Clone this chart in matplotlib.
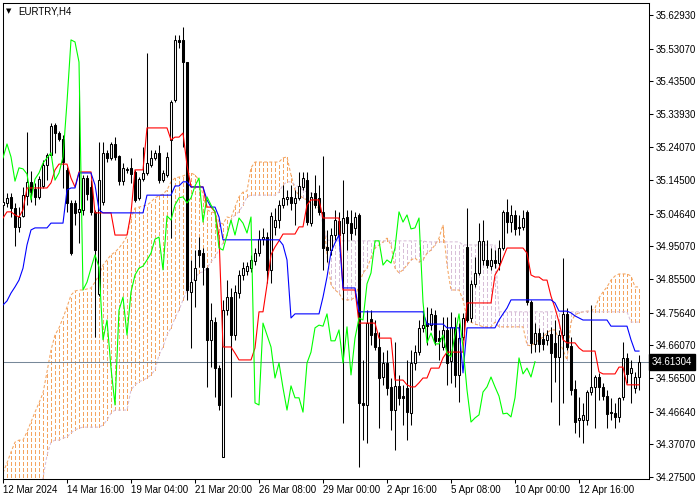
import numpy as np
import matplotlib.pyplot as plt
from matplotlib.colors import to_rgba_array
from matplotlib.transforms import blended_transform_factory

plt.rcParams['font.family'] = ['Liberation Sans', 'DejaVu Sans']
plt.rcParams['lines.scale_dashes'] = False

# EURTRY H4 candles
opens = [
    35.072, 35.078, 35.096, 35.063, 35.008, 35.040, 35.099, 35.140, 35.119, 35.096,
    35.128, 35.189, 35.219, 35.307, 35.283, 35.266, 35.175, 35.078, 35.078, 35.052,
    35.058, 35.151, 35.125, 35.052, 34.811, 35.081, 35.225, 35.210, 35.251, 35.216,
    35.142, 35.175, 35.181, 35.169, 35.093, 35.148, 35.166, 35.189, 35.210, 35.225,
    35.145, 35.160, 35.263, 35.380, 35.556, 35.556, 35.491, 34.817, 34.852, 34.940,
    34.931, 34.887, 34.677, 34.729, 34.594, 34.334, 34.764, 34.802, 34.691, 34.814,
    34.867, 34.879, 34.887, 34.908, 34.931, 34.972, 34.978, 34.882, 35.008, 35.028,
    35.072, 35.090, 35.096, 35.078, 35.093, 35.125, 35.145, 35.019, 35.107, 35.093,
    35.052, 34.949, 34.940, 34.984, 35.025, 34.990, 35.037, 35.019, 35.005, 35.043,
    34.492, 34.486, 34.738, 34.697, 34.656, 34.568, 34.609, 34.539, 34.471, 34.542,
    34.512, 34.536, 34.462, 34.609, 34.641, 34.712, 34.726, 34.720, 34.750, 34.682,
    34.656, 34.706, 34.615, 34.715, 34.574, 34.685, 34.949, 34.741, 34.841, 34.873,
    34.911, 34.911, 34.893, 34.911, 34.902, 34.946, 35.052, 35.022, 35.043, 35.008,
    35.008, 35.052, 34.788, 34.665, 34.697, 34.679, 34.677, 34.694, 34.668, 34.627,
    34.691, 34.753, 34.659, 34.533, 34.442, 34.442, 34.442, 34.524, 34.539, 34.568,
    34.539, 34.512, 34.465, 34.462, 34.451, 34.509, 34.624, 34.580, 34.536, 34.568,
]
highs = [
    35.107, 35.107, 35.107, 35.078, 35.066, 35.125, 35.286, 35.172, 35.137, 35.157,
    35.204, 35.225, 35.312, 35.312, 35.289, 35.277, 35.184, 35.087, 35.087, 35.409,
    35.160, 35.160, 35.145, 35.058, 35.257, 35.257, 35.233, 35.257, 35.271, 35.219,
    35.195, 35.184, 35.210, 35.175, 35.154, 35.242, 35.518, 35.233, 35.233, 35.248,
    35.175, 35.228, 35.380, 35.570, 35.570, 35.594, 35.491, 34.911, 34.940, 34.978,
    34.946, 34.890, 34.785, 34.744, 34.603, 34.794, 34.852, 34.829, 34.838, 34.882,
    34.905, 34.905, 34.926, 34.946, 34.999, 35.005, 34.993, 35.052, 35.063, 35.087,
    35.131, 35.116, 35.131, 35.116, 35.169, 35.169, 35.169, 35.110, 35.160, 35.131,
    35.216, 34.999, 35.005, 35.058, 35.052, 35.145, 35.058, 35.058, 35.052, 35.049,
    34.618, 34.764, 34.764, 34.735, 34.700, 34.641, 34.647, 34.565, 34.671, 34.574,
    34.545, 34.618, 34.647, 34.662, 34.735, 34.764, 34.773, 34.770, 34.764, 34.706,
    34.744, 34.744, 34.759, 34.744, 34.726, 34.756, 35.063, 34.852, 34.920, 35.019,
    35.028, 34.970, 34.946, 34.940, 34.970, 35.058, 35.090, 35.072, 35.058, 35.043,
    35.058, 35.058, 34.794, 34.726, 34.712, 34.700, 34.706, 34.715, 34.735, 34.706,
    34.917, 34.770, 34.685, 34.559, 34.509, 34.492, 34.530, 34.779, 34.574, 34.580,
    34.551, 34.530, 34.507, 34.492, 34.509, 34.671, 34.638, 34.618, 34.583, 34.632,
]
lows = [
    35.016, 35.066, 35.037, 34.952, 34.993, 35.037, 35.072, 35.081, 35.072, 35.090,
    35.122, 35.145, 35.213, 35.225, 35.260, 35.122, 35.052, 34.926, 35.014, 34.961,
    35.043, 35.087, 35.043, 34.685, 34.805, 35.072, 35.198, 35.204, 35.204, 35.131,
    35.131, 35.166, 35.137, 35.081, 35.087, 35.142, 35.160, 35.184, 35.204, 35.137,
    35.140, 35.154, 34.975, 35.374, 35.532, 35.242, 34.794, 34.653, 34.773, 34.890,
    34.838, 34.539, 34.597, 34.509, 34.471, 34.334, 34.750, 34.509, 34.677, 34.800,
    34.852, 34.867, 34.876, 34.896, 34.923, 34.955, 34.844, 34.844, 34.984, 35.005,
    35.063, 35.072, 35.058, 35.014, 35.087, 35.116, 35.014, 35.011, 35.063, 35.043,
    34.882, 34.905, 34.926, 34.970, 34.970, 34.433, 34.940, 34.970, 34.984, 34.304,
    34.383, 34.375, 34.662, 34.647, 34.418, 34.545, 34.515, 34.413, 34.354, 34.486,
    34.427, 34.383, 34.427, 34.589, 34.632, 34.700, 34.662, 34.706, 34.662, 34.618,
    34.647, 34.545, 34.551, 34.539, 34.495, 34.677, 34.729, 34.729, 34.832, 34.867,
    34.896, 34.887, 34.882, 34.887, 34.882, 34.940, 34.990, 34.993, 34.984, 34.984,
    34.999, 34.779, 34.638, 34.641, 34.641, 34.647, 34.662, 34.495, 34.554, 34.427,
    34.492, 34.647, 34.515, 34.404, 34.392, 34.375, 34.427, 34.515, 34.418, 34.501,
    34.501, 34.418, 34.442, 34.418, 34.436, 34.501, 34.551, 34.492, 34.521, 34.530,
]
closes = [
    35.081, 35.093, 35.063, 35.008, 35.037, 35.101, 35.140, 35.110, 35.096, 35.148,
    35.189, 35.219, 35.304, 35.283, 35.266, 35.198, 35.078, 34.931, 35.049, 35.060,
    35.151, 35.104, 35.052, 34.940, 35.145, 35.225, 35.210, 35.251, 35.213, 35.142,
    35.181, 35.178, 35.163, 35.087, 35.148, 35.166, 35.195, 35.210, 35.225, 35.145,
    35.166, 35.213, 35.374, 35.556, 35.550, 35.491, 34.823, 34.846, 34.887, 34.926,
    34.890, 34.677, 34.735, 34.594, 34.486, 34.764, 34.802, 34.691, 34.817, 34.867,
    34.887, 34.893, 34.911, 34.931, 34.972, 34.978, 34.882, 35.040, 35.028, 35.072,
    35.093, 35.096, 35.078, 35.093, 35.128, 35.151, 35.022, 35.096, 35.072, 35.052,
    34.946, 34.940, 34.984, 35.028, 34.984, 35.034, 35.019, 34.990, 35.037, 34.492,
    34.486, 34.726, 34.691, 34.656, 34.565, 34.609, 34.536, 34.471, 34.542, 34.507,
    34.507, 34.465, 34.609, 34.641, 34.712, 34.720, 34.717, 34.753, 34.674, 34.674,
    34.706, 34.609, 34.715, 34.574, 34.682, 34.741, 34.735, 34.841, 34.873, 34.967,
    34.967, 34.896, 34.911, 34.902, 34.946, 35.052, 35.022, 35.043, 35.002, 35.005,
    35.034, 34.788, 34.668, 34.697, 34.665, 34.665, 34.691, 34.638, 34.627, 34.691,
    34.753, 34.656, 34.530, 34.436, 34.448, 34.457, 34.524, 34.539, 34.568, 34.539,
    34.512, 34.460, 34.462, 34.451, 34.507, 34.624, 34.577, 34.594, 34.568, 34.61304,
]

# Ichimoku lines, (value, number of bars) runs
tenkan_runs = [
    (35.034, 1), (35.052, 2), (35.043, 1), (35.037, 1), (35.058, 1), (35.122, 6),
    (35.137, 1), (35.175, 1), (35.192, 3), (35.151, 1), (35.125, 1), (35.169, 4),
    (35.049, 5), (34.984, 4), (35.049, 1), (35.175, 3), (35.298, 6), (35.263, 1),
    (35.271, 2), (35.283, 1), (35.189, 1), (35.125, 4), (35.066, 2), (35.052, 1),
    (34.981, 1), (34.656, 3), (34.638, 1), (34.618, 4), (34.653, 1), (34.759, 2),
    (34.838, 1), (34.926, 1), (34.949, 1), (34.967, 1), (34.987, 4), (35.008, 2),
    (35.072, 1), (35.087, 3), (35.034, 5), (34.823, 4), (34.726, 5), (34.682, 4),
    (34.559, 3), (34.545, 1), (34.539, 2), (34.551, 1), (34.565, 2), (34.594, 3),
    (34.624, 1), (34.641, 5), (34.785, 7), (34.867, 1), (34.887, 1), (34.917, 1),
    (34.946, 5), (34.931, 1), (34.867, 1), (34.861, 2), (34.852, 2), (34.805, 1),
    (34.770, 1), (34.729, 1), (34.677, 1), (34.668, 3), (34.653, 1), (34.644, 4),
    (34.583, 1), (34.577, 4), (34.597, 2), (34.545, 4),
]
kijun_runs = [
    (34.779, 1), (34.791, 1), (34.814, 1), (34.832, 1), (34.852, 1), (34.887, 1),
    (34.955, 1), (34.999, 1), (35.005, 4), (35.019, 4), (35.116, 1), (35.122, 2),
    (35.166, 4), (35.131, 1), (35.058, 1), (35.049, 11), (35.101, 7), (35.128, 2),
    (35.140, 2), (35.125, 4), (35.087, 1), (35.066, 2), (35.037, 1), (34.970, 15),
    (34.955, 1), (34.911, 1), (34.741, 1), (34.753, 7), (34.802, 1), (34.861, 1),
    (34.934, 1), (34.961, 1), (34.984, 1), (34.829, 4), (34.759, 17), (34.723, 5),
    (34.712, 4), (34.580, 1), (34.712, 8), (34.735, 1), (34.753, 1), (34.770, 1),
    (34.794, 11), (34.785, 1), (34.761, 3), (34.756, 1), (34.747, 1), (34.741, 1),
    (34.735, 7), (34.717, 5), (34.677, 1), (34.644, 2),
]
span_a = [
    34.287, 34.316, 34.348, 34.377, 34.383, 34.383, 34.407, 34.436, 34.465, 34.492,
    34.521, 34.583, 34.647, 34.691, 34.712, 34.741, 34.773, 34.808, 34.820, 34.823,
    34.823, 34.826, 34.829, 34.846, 34.867, 34.896, 34.911, 34.926, 34.934, 34.946,
    34.961, 34.981, 35.034, 35.063, 35.066, 35.069, 35.072, 35.081, 35.093, 35.099,
    35.104, 35.116, 35.140, 35.151, 35.154, 35.157, 35.163, 35.166, 35.160, 35.145,
    35.101, 35.058, 35.052, 35.049, 35.022, 35.016, 35.037, 35.034, 35.066, 35.096,
    35.110, 35.113, 35.181, 35.198, 35.198, 35.198, 35.198, 35.198, 35.198, 35.198,
    35.210, 35.213, 35.160, 35.116, 35.101, 35.093, 35.087, 35.081, 35.072, 35.063,
    35.043, 34.926, 34.838, 34.823, 34.814, 34.794, 34.794, 34.794, 34.802, 34.838,
    34.873, 34.887, 34.917, 34.946, 34.955, 34.964, 34.975, 34.955, 34.887, 34.873,
    34.882, 34.896, 34.911, 34.917, 34.905, 34.911, 34.931, 34.940, 34.955, 34.975,
    35.014, 34.896, 34.823, 34.823, 34.823, 34.794, 34.741, 34.729, 34.723, 34.720,
    34.715, 34.715, 34.715, 34.729, 34.715, 34.715, 34.715, 34.715, 34.715, 34.715,
    34.715, 34.662, 34.659, 34.668, 34.677, 34.685, 34.697, 34.706, 34.706, 34.677,
    34.647, 34.618, 34.729, 34.750, 34.756, 34.759, 34.761, 34.761, 34.770, 34.800,
    34.817, 34.832, 34.852, 34.864, 34.870, 34.870, 34.870, 34.864, 34.832, 34.832,
]
span_b_runs = [
    (34.222, 10), (34.272, 1), (34.339, 1), (34.377, 1), (34.383, 2), (34.389, 1),
    (34.392, 1), (34.404, 1), (34.413, 1), (34.418, 1), (34.421, 5), (34.427, 1),
    (34.442, 1), (34.462, 1), (34.471, 4), (34.530, 1), (34.545, 1), (34.554, 1),
    (34.559, 1), (34.565, 1), (34.574, 1), (34.589, 1), (34.632, 1), (34.656, 1),
    (34.691, 1), (34.712, 1), (34.741, 1), (34.764, 1), (34.794, 1), (34.823, 1),
    (34.844, 1), (34.858, 1), (34.873, 1), (34.876, 1), (34.887, 1), (34.905, 1),
    (34.920, 1), (34.940, 1), (34.961, 1), (34.984, 1), (35.028, 1), (35.043, 1),
    (35.052, 1), (35.072, 1), (35.096, 1), (35.101, 7), (35.110, 1), (35.131, 1),
    (35.140, 2), (35.131, 1), (35.125, 1), (35.116, 1), (35.110, 1), (35.107, 1),
    (35.101, 1), (35.072, 1), (35.014, 1), (34.970, 1), (34.967, 24), (34.964, 9),
    (34.955, 9), (34.759, 33), (34.729, 3),
]

price_ticks = [35.62930, 35.53070, 35.43500, 35.33930, 35.24070, 35.14500, 35.04640,
               34.95070, 34.85500, 34.75640, 34.66070, 34.56500, 34.46640, 34.37070, 34.27500]
time_labels = ["12 Mar 2024", "14 Mar 16:00", "19 Mar 04:00", "21 Mar 20:00", "26 Mar 08:00",
               "29 Mar 00:00", "2 Apr 16:00", "5 Apr 08:00", "10 Apr 00:00", "12 Apr 16:00"]
time_label_bars = [0, 16, 32, 48, 64, 80, 96, 112, 128, 144]


def expand(runs):
    return np.concatenate([np.full(c, v) for v, c in runs])


opens = np.array(opens)
highs = np.array(highs)
lows = np.array(lows)
closes = np.array(closes)
n = len(closes)
x = np.arange(n)
tenkan = expand(tenkan_runs)[:n]
kijun = expand(kijun_runs)[:n]
span_a = np.array(span_a)[:n]
span_b = expand(span_b_runs)[:n]

fig = plt.figure(figsize=(7, 5), dpi=100)
ax = fig.add_axes([2.5 / 700, 21.5 / 500, 646 / 700, 475.8 / 500])

# облако: вертикальные пунктиры между span A и span B
sandy = '#F4A460'
thistle = '#D8BFD8'
cloud_cols = to_rgba_array([sandy if a >= b else thistle for a, b in zip(span_a, span_b)])
dash = (0, (2.2, 1.5))
ax.vlines(x, np.minimum(span_a, span_b), np.maximum(span_a, span_b),
          colors=cloud_cols, linewidth=0.75, linestyles=[dash], antialiased=False, zorder=1)
ax.plot(x, span_a, color=sandy, lw=0.75, ls=dash, zorder=1)
ax.plot(x, span_b, color=thistle, lw=0.75, ls=dash, zorder=1)

ax.axhline(closes[-1], color='#778899', lw=0.75, zorder=2)

# свечи
bull = closes >= opens
body_lo = np.minimum(opens, closes)
body_h = np.maximum(np.abs(closes - opens), 0.0005)
ax.vlines(x, lows, highs, color='black', linewidth=0.75, zorder=3)
ax.bar(x, body_h, bottom=body_lo, width=0.55,
       color=np.where(bull, 'white', 'black'), edgecolor='black', linewidth=0.75, zorder=4)

ax.plot(x, tenkan, color='red', lw=0.8, zorder=5)
ax.plot(x, kijun, color='blue', lw=0.8, zorder=5)
ax.plot(x[:n - 26], closes[26:], color='lime', lw=0.8, zorder=5)

ax.set_xlim(-0.125, 161.375)
ax.set_ylim(34.2705, 35.665)

ax.yaxis.tick_right()
ax.set_yticks(price_ticks)
ax.set_yticklabels([f"{v:.5f}" for v in price_ticks])
ax.set_xticks(time_label_bars)
ax.set_xticklabels(time_labels, ha='left')
ax.tick_params(axis='both', direction='out', length=3, width=0.75, labelsize=7, pad=2, colors='black')
for s in ax.spines.values():
    s.set_linewidth(0.75)

trans = blended_transform_factory(ax.transAxes, ax.transData)
ax.text(1.0 + 3 / 646, closes[-1], f"{closes[-1]:.5f}", transform=trans, ha='left', va='center',
        fontsize=7, color='white',
        bbox=dict(boxstyle='square,pad=0.3', facecolor='black', edgecolor='black'))

fig.text(6 / 700, 1 - 11 / 500, "\u25bc", fontsize=5, va='center', family=['DejaVu Sans'])
fig.text(18 / 700, 1 - 11 / 500, "EURTRY,H4", fontsize=7, va='center')

fig.savefig('out.png', dpi=100)
